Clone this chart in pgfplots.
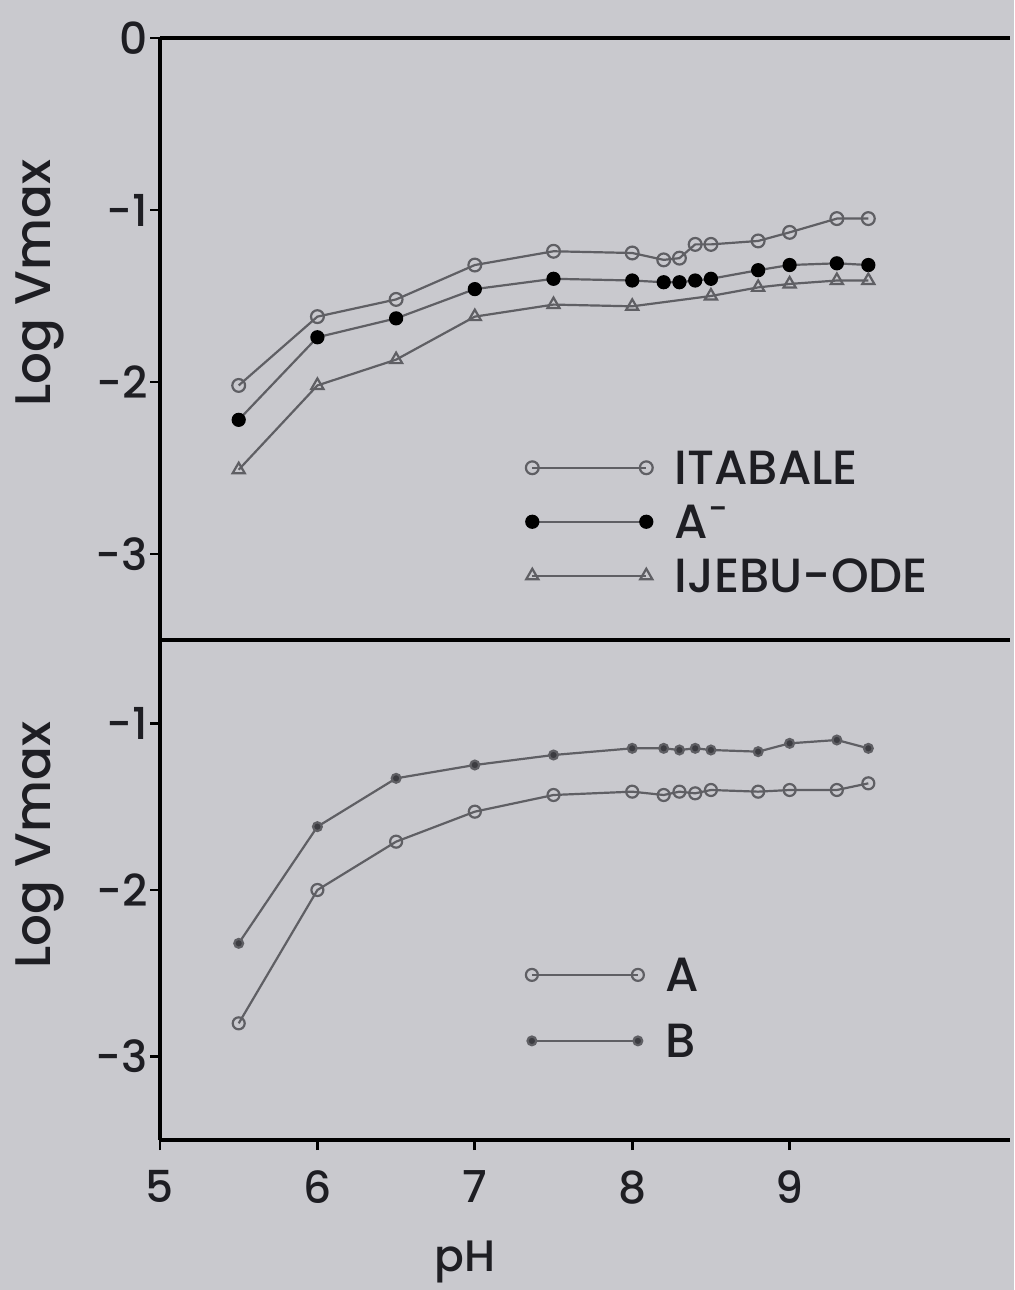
\documentclass[border=0pt]{standalone}
\usepackage{pgfplots}
\pgfplotsset{compat=1.18}
\usepackage{fontspec}
\setmainfont{Poppins}[UprightFont={Poppins Medium}]
\definecolor{bg}{RGB}{201,201,206}
\definecolor{ln}{RGB}{95,95,100}
\definecolor{mk}{RGB}{60,60,65}
\definecolor{tx}{RGB}{30,30,35}
\begin{document}
\begin{tikzpicture}[x=1pt,y=1pt]
\fill[bg] (-80,-75) rectangle (427,570);
\path[use as bounding box] (-80,-75) rectangle (427,570);
\pgfplotsset{
  myax/.style={
    scale only axis, width=425pt, xmin=5, xmax=10.4,
    axis x line*=box, axis y line*=left,
    axis line style={line width=1.8pt, black},
    every inner x axis line/.append style={-}, every inner y axis line/.append style={-},
    tick style={line width=1.4pt, black}, tick align=outside, major tick length=5pt,
    xtick pos=bottom,
    font=\fontsize{22}{26}\selectfont, text=tx,
    yticklabel style={inner sep=1pt},
    xticklabel style={inner sep=0pt, yshift=-10pt},
    ylabel style={font=\fontsize{25}{28}\selectfont},
    legend cell align=left,
    legend style={draw=none, fill=none, inner sep=0pt,
      font=\fontsize{24}{28}\selectfont,
      nodes={inner sep=0pt, text height=17pt, text depth=0pt},
      /tikz/every odd column/.append style={column sep=11pt}},
    every axis plot/.append style={line width=1.1pt, color=ln, mark options={draw=mk, line width=1pt}},
  },
}
% bottom panel
\begin{axis}[myax, at={(0,0)}, anchor=south west, height=250pt,
  ymin=-3.5, ymax=-0.5,
  xtick={5,6,7,8,9}, xticklabels={5,6,7,8,9},
  ytick={-3,-2,-1}, yticklabels={-3,-2,-1},
  ylabel={Log Vmax},
  ylabel style={at={(rel axis cs:-0.1412,0.59)}, anchor=center, rotate=0},
  xlabel={pH},
  xlabel style={at={(rel axis cs:0.3588,0)}, anchor=center, yshift=-61pt},
  legend image code/.code={\draw[#1] plot coordinates {(0pt,0pt) (53pt,0pt)};},
  legend style={at={(rel axis cs:0.43,0.365)}, anchor=north west, row sep=16pt},
]
\addplot[mark=o, mark size=3pt, mark options={fill=bg}] coordinates {
(5.5,-2.80) (6,-2.0) (6.5,-1.71) (7,-1.53) (7.5,-1.43) (8,-1.41) (8.2,-1.43) (8.3,-1.41) (8.4,-1.42) (8.5,-1.40) (8.8,-1.41) (9,-1.40) (9.3,-1.40) (9.5,-1.36)};
\addlegendentry{A}
\addplot[mark=*, mark size=2.2pt, mark options={fill=mk}] coordinates {
(5.5,-2.32) (6,-1.62) (6.5,-1.33) (7,-1.25) (7.5,-1.19) (8,-1.15) (8.2,-1.15) (8.3,-1.16) (8.4,-1.15) (8.5,-1.16) (8.8,-1.17) (9,-1.12) (9.3,-1.10) (9.5,-1.15)};
\addlegendentry{B}
\end{axis}
% top panel
\begin{axis}[myax, at={(0,250pt)}, anchor=south west, height=301pt,
  ymin=-3.5, ymax=0,
  xtick=\empty,
  ytick={-3,-2,-1,0}, yticklabels={-3,-2,-1,0},
  ylabel={Log Vmax},
  ylabel style={at={(rel axis cs:-0.1412,0.593)}, anchor=center, rotate=0},
  legend image code/.code={\draw[#1] plot coordinates {(0pt,0pt) (57pt,0pt)};},
  legend style={at={(rel axis cs:0.43,0.315)}, anchor=north west, row sep=10pt},
]
\addplot[mark=o, mark size=3.2pt, mark options={fill=bg}] coordinates {
(5.5,-2.02) (6,-1.62) (6.5,-1.52) (7,-1.32) (7.5,-1.24) (8,-1.25) (8.2,-1.29) (8.3,-1.28) (8.4,-1.20) (8.5,-1.20) (8.8,-1.18) (9,-1.13) (9.3,-1.05) (9.5,-1.05)};
\addlegendentry{ITABALE}
\addplot[mark=*, mark size=3pt, mark options={fill=black, draw=black}] coordinates {
(5.5,-2.22) (6,-1.74) (6.5,-1.63) (7,-1.46) (7.5,-1.40) (8,-1.41) (8.2,-1.42) (8.3,-1.42) (8.4,-1.41) (8.5,-1.40) (8.8,-1.35) (9,-1.32) (9.3,-1.31) (9.5,-1.32)};
\addlegendentry{A\textsuperscript{-}}
\addplot[mark=triangle, mark size=3.5pt, mark options={fill=bg}] coordinates {
(5.5,-2.51) (6,-2.02) (6.5,-1.87) (7,-1.62) (7.5,-1.55) (8,-1.56) (8.5,-1.50) (8.8,-1.45) (9,-1.43) (9.3,-1.41) (9.5,-1.41)};
\addlegendentry{IJEBU-ODE}
\end{axis}
\end{tikzpicture}
\end{document}
